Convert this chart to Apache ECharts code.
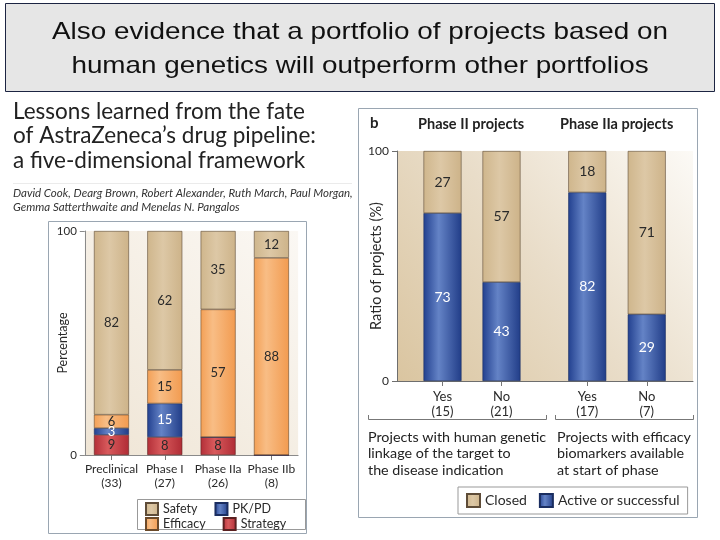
<!DOCTYPE html>
<html>
<head>
<meta charset="utf-8">
<script src="https://cdn.jsdelivr.net/npm/echarts@6/dist/echarts.min.js"></script>
<style>
html,body{margin:0;padding:0;background:#fff;}
#c{width:720px;height:540px;}
</style>
</head>
<body>
<div id="c"></div>
<script>
// ---- data ----
const phaseNames = ['Preclinical', 'Phase I', 'Phase IIa', 'Phase IIb'];
const phaseCounts = [33, 27, 26, 8];
const strategy = [9, 8, 8, 0];
const pkpd = [3, 15, 0, 0];
const efficacy = [6, 15, 57, 88];
const safety = [82, 62, 35, 12];

const geneticCats = ['Yes', 'No'];
const geneticCounts = [15, 21];
const geneticActive = [73, 43];
const geneticClosed = [27, 57];

const biomarkerCats = ['Yes', 'No'];
const biomarkerCounts = [17, 7];
const biomarkerActive = [82, 29];
const biomarkerClosed = [18, 71];

const yTicksMin = 0, yTicksMax = 100;

// ---- styles ----
const FONT = 'Lato';
function hg(stops) {
  return {type: 'linear', x: 0, y: 0, x2: 1, y2: 0,
    colorStops: stops.map(s => ({offset: s[0], color: s[1]}))};
}
const C = {
  tan: hg([[0, '#cfb68c'], [0.45, '#ddc8a6'], [1, '#cdb389']]),
  orange: hg([[0, '#f3a056'], [0.35, '#f8bd85'], [1, '#f29b50']]),
  blue: hg([[0, '#22408f'], [0.4, '#6483c6'], [1, '#213d88']]),
  red: hg([[0, '#b32f38'], [0.4, '#d85a5c'], [1, '#b02c35']])
};
const dark = '#2a2a2a';
function lbl(color, size) {
  return {show: true, position: 'inside', color: color, fontSize: size, fontFamily: FONT,
    formatter: p => (p.value ? String(p.value) : '')};
}
function cat(names, counts) { return names.map((n, i) => n + '\n(' + counts[i] + ')'); }

const chart = echarts.init(document.getElementById('c'), null, {renderer: 'canvas'});

const leftBg = {type: 'linear', x: 0, y: 1, x2: 1, y2: 0,
  colorStops: [{offset: 0, color: '#efe5d5'}, {offset: 1, color: '#fbf8f4'}]};
const rightBg = {type: 'linear', x: 0, y: 1, x2: 1, y2: 0,
  colorStops: [{offset: 0, color: '#dac5a0'}, {offset: 0.5, color: '#e9ddc9'}, {offset: 1, color: '#fcfaf6'}]};

const xBase = {
  type: 'category',
  axisLine: {show: false},
  axisTick: {show: true, alignWithLabel: true, length: 5, lineStyle: {color: '#777'}},
  axisLabel: {fontFamily: FONT, color: dark, interval: 0}
};

const option = {
  animation: false,
  backgroundColor: '#ffffff',
  grid: [
    {left: 84.8, top: 231, width: 213.3, height: 224, show: true, borderWidth: 0, backgroundColor: leftBg},
    {left: 397, top: 151, width: 296, height: 230, show: true, borderWidth: 0, backgroundColor: rightBg},
    {left: 413, top: 151, width: 118, height: 230},
    {left: 557.5, top: 151, width: 119, height: 230}
  ],
  xAxis: [
    Object.assign({}, xBase, {gridIndex: 0, data: cat(phaseNames, phaseCounts),
      axisLine: {show: true, lineStyle: {color: '#8a8a8a'}},
      axisLabel: Object.assign({}, xBase.axisLabel, {fontSize: 12, lineHeight: 14, margin: 7})}),
    {type: 'category', gridIndex: 1, data: [''], axisLine: {show: true, lineStyle: {color: '#6e6e6e'}},
      axisTick: {show: false}, axisLabel: {show: false}},
    Object.assign({}, xBase, {gridIndex: 2, data: cat(geneticCats, geneticCounts),
      axisLabel: Object.assign({}, xBase.axisLabel, {fontSize: 13, lineHeight: 15, margin: 8})}),
    Object.assign({}, xBase, {gridIndex: 3, data: cat(biomarkerCats, biomarkerCounts),
      axisLabel: Object.assign({}, xBase.axisLabel, {fontSize: 13, lineHeight: 15, margin: 8})})
  ],
  yAxis: [
    {type: 'value', gridIndex: 0, min: yTicksMin, max: yTicksMax, interval: 100,
      name: 'Percentage', nameLocation: 'middle', nameRotate: 90, nameGap: 15, nameMoveOverlap: false,
      nameTextStyle: {fontFamily: FONT, fontSize: 12.5, color: dark},
      axisLine: {show: true, lineStyle: {color: '#8a8a8a'}},
      axisTick: {show: true, length: 5, lineStyle: {color: '#8a8a8a'}},
      axisLabel: {fontFamily: FONT, fontSize: 11.5, color: dark, margin: 8},
      splitLine: {show: false}},
    {type: 'value', gridIndex: 1, min: yTicksMin, max: yTicksMax, interval: 100,
      name: 'Ratio of projects (%)', nameLocation: 'middle', nameRotate: 90, nameGap: 13, nameMoveOverlap: false,
      nameTextStyle: {fontFamily: FONT, fontSize: 14.5, color: dark},
      axisLine: {show: true, lineStyle: {color: '#6e6e6e'}},
      axisTick: {show: true, length: 5, lineStyle: {color: '#6e6e6e'}},
      axisLabel: {fontFamily: FONT, fontSize: 12, color: dark, margin: 8},
      splitLine: {show: false}},
    {type: 'value', gridIndex: 2, min: 0, max: 100, show: false},
    {type: 'value', gridIndex: 3, min: 0, max: 100, show: false}
  ],
  legend: [
    {left: 140, top: 497, itemWidth: 12, itemHeight: 12, itemGap: 17, icon: 'rect',
      textStyle: {fontFamily: FONT, fontSize: 12.5, color: dark, width: 60}, data: ['Safety', 'PK/PD']},
    {left: 140, top: 512, itemWidth: 12, itemHeight: 12, itemGap: 17, icon: 'rect',
      textStyle: {fontFamily: FONT, fontSize: 12.5, color: dark, width: 60}, data: ['Efficacy', 'Strategy']},
    {left: 458, top: 487, itemWidth: 13, itemHeight: 13, itemGap: 12, icon: 'rect',
      padding: [6, 8, 6, 8], borderColor: '#999', borderWidth: 1,
      textStyle: {fontFamily: FONT, fontSize: 14, color: dark}, data: ['Closed', 'Active or successful']}
  ],
  series: [
    {name: 'Strategy', type: 'bar', stack: 'a', xAxisIndex: 0, yAxisIndex: 0, barWidth: 35, data: strategy,
      itemStyle: {color: C.red, borderColor: '#5a2020', borderWidth: 0.6}, label: lbl(dark, 13)},
    {name: 'PK/PD', type: 'bar', stack: 'a', xAxisIndex: 0, yAxisIndex: 0, barWidth: 35, data: pkpd,
      itemStyle: {color: C.blue, borderColor: '#1a2d60', borderWidth: 0.6}, label: lbl('#ffffff', 13)},
    {name: 'Efficacy', type: 'bar', stack: 'a', xAxisIndex: 0, yAxisIndex: 0, barWidth: 35, data: efficacy,
      itemStyle: {color: C.orange, borderColor: '#6b4a2a', borderWidth: 0.6}, label: lbl(dark, 13)},
    {name: 'Safety', type: 'bar', stack: 'a', xAxisIndex: 0, yAxisIndex: 0, barWidth: 35, data: safety,
      itemStyle: {color: C.tan, borderColor: '#5e4c38', borderWidth: 0.6}, label: lbl(dark, 13)},

    {name: 'Active or successful', type: 'bar', stack: 'g', xAxisIndex: 2, yAxisIndex: 2, barWidth: 38, data: geneticActive,
      itemStyle: {color: C.blue, borderColor: '#1a2d60', borderWidth: 0.6}, label: lbl('#ffffff', 14)},
    {name: 'Closed', type: 'bar', stack: 'g', xAxisIndex: 2, yAxisIndex: 2, barWidth: 38, data: geneticClosed,
      itemStyle: {color: C.tan, borderColor: '#5e4c38', borderWidth: 0.6}, label: lbl(dark, 14)},
    {name: 'Active or successful', type: 'bar', stack: 'b', xAxisIndex: 3, yAxisIndex: 3, barWidth: 38, data: biomarkerActive,
      itemStyle: {color: C.blue, borderColor: '#1a2d60', borderWidth: 0.6}, label: lbl('#ffffff', 14)},
    {name: 'Closed', type: 'bar', stack: 'b', xAxisIndex: 3, yAxisIndex: 3, barWidth: 38, data: biomarkerClosed,
      itemStyle: {color: C.tan, borderColor: '#5e4c38', borderWidth: 0.6}, label: lbl(dark, 14)}
  ],
  graphic: {elements: [
    // slide title box
    {type: 'rect', z: -5, shape: {x: 5.5, y: 3.5, width: 709, height: 88},
      style: {fill: '#e6e6e6', stroke: '#1c2442', lineWidth: 1}},
    {type: 'text', x: 360, y: 15.5, scaleX: 1.16, z: 10,
      style: {text: 'Also evidence that a portfolio of projects based on\nhuman genetics will outperform other portfolios',
        font: '24px "Liberation Sans"', fill: '#111', textAlign: 'center', textVerticalAlign: 'top', lineHeight: 34}},
    // panels
    {type: 'rect', z: -5, shape: {x: 48.5, y: 221.5, width: 258, height: 312},
      style: {fill: 'none', stroke: '#9aa6b2', lineWidth: 1}},
    {type: 'rect', z: -5, shape: {x: 358.5, y: 108.5, width: 339, height: 409},
      style: {fill: 'none', stroke: '#9aa6b2', lineWidth: 1}},
    {type: 'rect', z: -5, shape: {x: 137.5, y: 499.5, width: 168, height: 30},
      style: {fill: 'none', stroke: '#999', lineWidth: 1}},
    // article heading
    {type: 'text', left: 13, top: 99, z: 10,
      style: {text: 'Lessons learned from the fate\nof AstraZeneca\u2019s drug pipeline:\na five-dimensional framework',
        font: '22.5px Lato', fill: '#222', lineHeight: 24.5}},
    {type: 'line', z: -5, shape: {x1: 13, y1: 183.5, x2: 352, y2: 183.5}, style: {stroke: '#ebebeb', lineWidth: 1}},
    {type: 'text', left: 13, top: 186, z: 10,
      style: {text: 'David Cook, Dearg Brown, Robert Alexander, Ruth March, Paul Morgan,\nGemma Satterthwaite and Menelas N. Pangalos',
        font: 'italic 11.5px Lato', fill: '#333', lineHeight: 14}},
    // panel b headers
    {type: 'text', left: 370, top: 116, z: 10, style: {text: 'b', font: 'bold 15px Lato', fill: '#222'}},
    {type: 'text', left: 418, top: 117, z: 10, style: {text: 'Phase II projects', font: 'bold 14.5px Lato', fill: '#222'}},
    {type: 'text', left: 560, top: 117, z: 10, style: {text: 'Phase IIa projects', font: 'bold 14.5px Lato', fill: '#222'}},
    // group brackets
    {type: 'polyline', shape: {points: [[368.5, 415], [368.5, 419.5], [546.5, 419.5], [546.5, 415]]},
      style: {stroke: '#777', lineWidth: 1, fill: 'none'}},
    {type: 'polyline', shape: {points: [[555.5, 415], [555.5, 419.5], [693.5, 419.5], [693.5, 415]]},
      style: {stroke: '#777', lineWidth: 1, fill: 'none'}},
    {type: 'text', left: 368, top: 429, z: 10,
      style: {text: 'Projects with human genetic\nlinkage of the target to\nthe disease indication', font: '14.3px Lato', fill: '#222', lineHeight: 16.5}},
    {type: 'text', left: 557, top: 429, z: 10,
      style: {text: 'Projects with efficacy\nbiomarkers available\nat start of phase', font: '14.3px Lato', fill: '#222', lineHeight: 16.5}}
  ]}
};
chart.setOption(option);
</script>
</body>
</html>
